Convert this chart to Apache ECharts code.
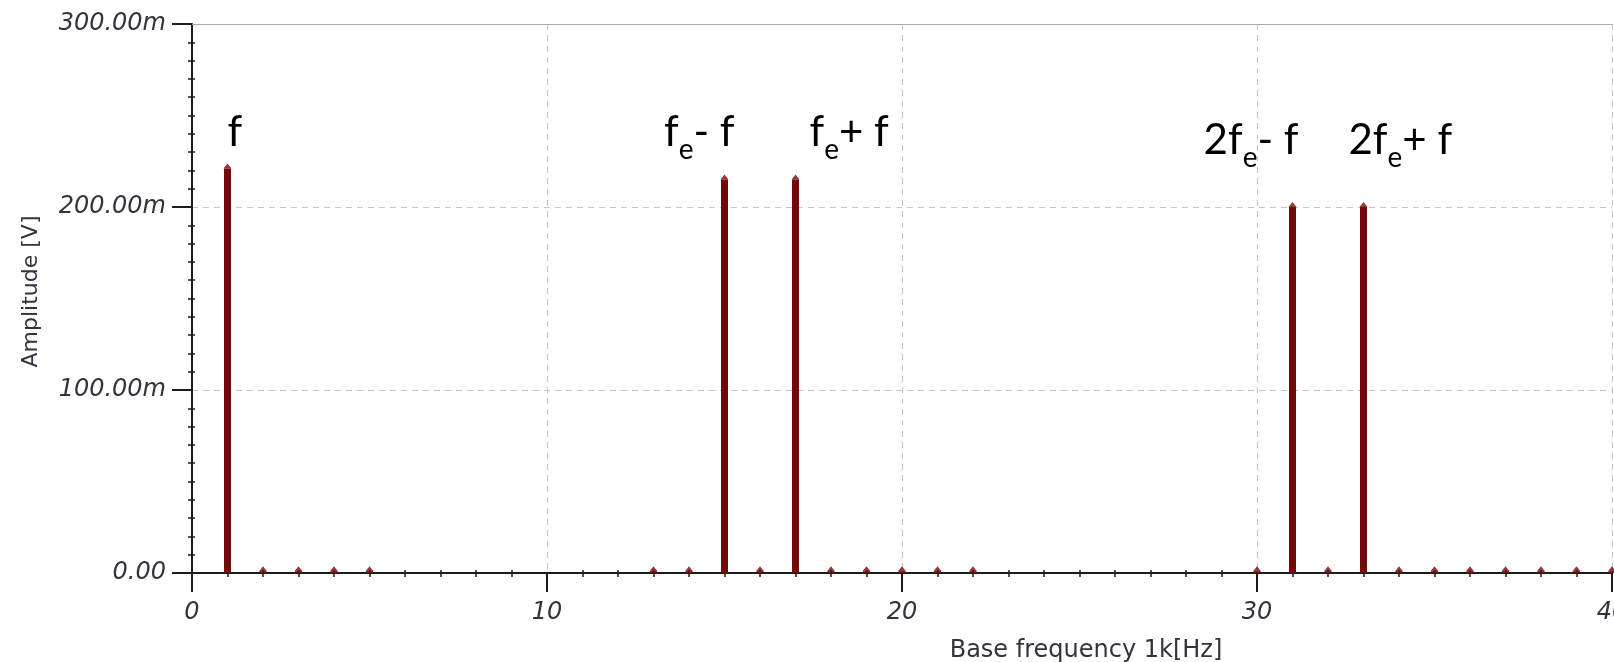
<!DOCTYPE html>
<html>
<head>
<meta charset="utf-8">
<script src="https://cdn.jsdelivr.net/npm/echarts@6/dist/echarts.min.js"></script>
<style>
  html, body { margin: 0; padding: 0; background: #ffffff; }
  #chart { width: 1614px; height: 662px; }
</style>
</head>
<body>
<div id="chart"></div>
<script>
// Spectrum lines: frequency (kHz) and amplitude (V)
const lineFreqKHz = [1, 2, 3, 4, 5, 13, 14, 15, 16, 17, 18, 19, 20, 21, 22,
                     30, 31, 32, 33, 34, 35, 36, 37, 38, 39, 40];
const lineAmplitudeV = [0.221, 0.001, 0.001, 0.001, 0.001, 0.001, 0.001, 0.215, 0.001, 0.215,
                        0.001, 0.001, 0.001, 0.001, 0.001,
                        0.001, 0.200, 0.001, 0.200, 0.001, 0.001, 0.001, 0.001, 0.001, 0.001, 0.001];

// Named components of the spectrum ("_e" marks the subscript e)
const peakFreqKHz = [1, 15, 17, 31, 33];
const peakNames = ['f', 'f_e- f', 'f_e+ f', '2f_e- f', '2f_e+ f'];

// Axis ticks
const xTicksKHz = [0, 10, 20, 30, 40];
const yTicksV = [0, 0.1, 0.2, 0.3];

// ---- styling / layout ----
const STEM = '#730a0a';
const AXIS = '#1c1c1c';
const TEXT = '#33333d';
const GRIDLINE = { color: '#c6c6c6', width: 1, type: [6, 5] };
const LABEL_LEVEL = 0.252;                 // height where the component names sit
const peakLabelLayout = [
  { align: 'left',  dx: 0,   dy: 0 },
  { align: 'right', dx: 10,  dy: 0 },
  { align: 'left',  dx: 14,  dy: 0 },
  { align: 'right', dx: 6,   dy: 8 },
  { align: 'left',  dx: -15, dy: 8 }
];

const xMin = xTicksKHz[0], xMax = xTicksKHz[xTicksKHz.length - 1], xStep = xTicksKHz[1] - xTicksKHz[0];
const yMin = yTicksV[0], yMax = yTicksV[yTicksV.length - 1], yStep = +(yTicksV[1] - yTicksV[0]).toFixed(6);

const tickFont = { fontFamily: 'DejaVu Sans', fontStyle: 'italic', fontSize: 24, color: TEXT };

function richName(s) {
  const parts = s.split('_e');
  let out = '';
  parts.forEach((p, i) => {
    if (p.length) out += '{m|' + p + '}';
    if (i < parts.length - 1) out += '{s|e}';
  });
  return out;
}

const stemData = lineFreqKHz.map((f, i) => [f, lineAmplitudeV[i]]);

const labelData = peakFreqKHz.map((f, i) => ({
  value: [f, LABEL_LEVEL],
  name: peakNames[i],
  label: {
    align: peakLabelLayout[i].align,
    offset: [peakLabelLayout[i].dx, peakLabelLayout[i].dy]
  }
}));

const chart = echarts.init(document.getElementById('chart'), null, { renderer: 'canvas' });

chart.setOption({
  animation: false,
  backgroundColor: '#ffffff',
  grid: { left: 192, right: 2, top: 24, bottom: 89, containLabel: false, outerBoundsMode: 'none' },
  xAxis: [
    {
      type: 'value', min: xMin, max: xMax, interval: xStep, position: 'bottom',
      name: 'Base frequency 1k[Hz]', nameLocation: 'middle', nameGap: 66,
      nameTextStyle: { fontFamily: 'DejaVu Sans', fontSize: 24, color: TEXT, padding: [0, 0, 0, 368] },
      axisLine: { onZero: false, lineStyle: { color: AXIS, width: 2 } },
      axisTick: { length: 19, lineStyle: { color: AXIS, width: 2 } },
      minorTick: { show: true, splitNumber: 10, length: 4, lineStyle: { color: AXIS, width: 1.5 } },
      axisLabel: Object.assign({ margin: 28 }, tickFont),
      splitLine: { show: true, lineStyle: GRIDLINE }
    },
    {
      // inward half of the minor ticks
      type: 'value', min: xMin, max: xMax, interval: xStep, position: 'bottom',
      axisLine: { show: false, onZero: false },
      axisTick: { show: false, inside: true },
      minorTick: { show: true, splitNumber: 10, length: 3, lineStyle: { color: AXIS, width: 1.5 } },
      axisLabel: { show: false },
      splitLine: { show: false }
    },
    {
      // top frame line
      type: 'value', min: xMin, max: xMax, position: 'top',
      axisLine: { show: true, onZero: false, lineStyle: { color: '#a8a8a8', width: 1 } },
      axisTick: { show: false }, axisLabel: { show: false }, splitLine: { show: false }
    }
  ],
  yAxis: [
    {
      type: 'value', min: yMin, max: yMax, interval: yStep, position: 'left',
      name: 'Amplitude [V]', nameLocation: 'middle', nameGap: 150,
      nameTextStyle: { fontFamily: 'DejaVu Sans', fontSize: 22, color: TEXT, padding: [0, 0, 0, 14] },
      axisLine: { show: true, onZero: false, lineStyle: { color: AXIS, width: 2 } },
      axisTick: { show: true, length: 20, lineStyle: { color: AXIS, width: 2 } },
      minorTick: { show: true, splitNumber: 10, length: 4, lineStyle: { color: AXIS, width: 1.5 } },
      axisLabel: Object.assign({
        margin: 26,
        formatter: v => (Math.abs(v) < 1e-9 ? '0.00' : (v * 1000).toFixed(2) + 'm')
      }, tickFont),
      splitLine: { show: true, lineStyle: GRIDLINE }
    },
    {
      // inward half of the minor ticks
      type: 'value', min: yMin, max: yMax, interval: yStep, position: 'left',
      axisLine: { show: false, onZero: false },
      axisTick: { show: false, inside: true },
      minorTick: { show: true, splitNumber: 10, length: 3, lineStyle: { color: AXIS, width: 1.5 } },
      axisLabel: { show: false },
      splitLine: { show: false }
    }
  ],
  series: [
    {
      name: 'stems', type: 'bar', xAxisIndex: 0, yAxisIndex: 0,
      barWidth: 7, data: stemData,
      itemStyle: { color: STEM }, z: 3
    },
    {
      name: 'heads', type: 'scatter', xAxisIndex: 0, yAxisIndex: 0,
      symbol: 'triangle', symbolSize: [8, 5], symbolOffset: [0, '-50%'],
      data: stemData, itemStyle: { color: STEM }, z: 4, silent: true
    },
    {
      name: 'components', type: 'scatter', xAxisIndex: 0, yAxisIndex: 0,
      symbolSize: 1, itemStyle: { color: '#ffffff', opacity: 0 },
      data: labelData, z: 5, silent: true,
      label: {
        show: true, position: 'inside', verticalAlign: 'top', color: '#000000', opacity: 1,
        textBorderWidth: 0,
        formatter: p => richName(p.name),
        rich: {
          m: { fontFamily: 'Lato', fontSize: 42, lineHeight: 42, color: '#000000', verticalAlign: 'top' },
          s: { fontFamily: 'Lato', fontSize: 28, lineHeight: 28, color: '#000000', verticalAlign: 'top', padding: [24, 0, 0, 0] }
        }
      }
    }
  ]
});
</script>
</body>
</html>
